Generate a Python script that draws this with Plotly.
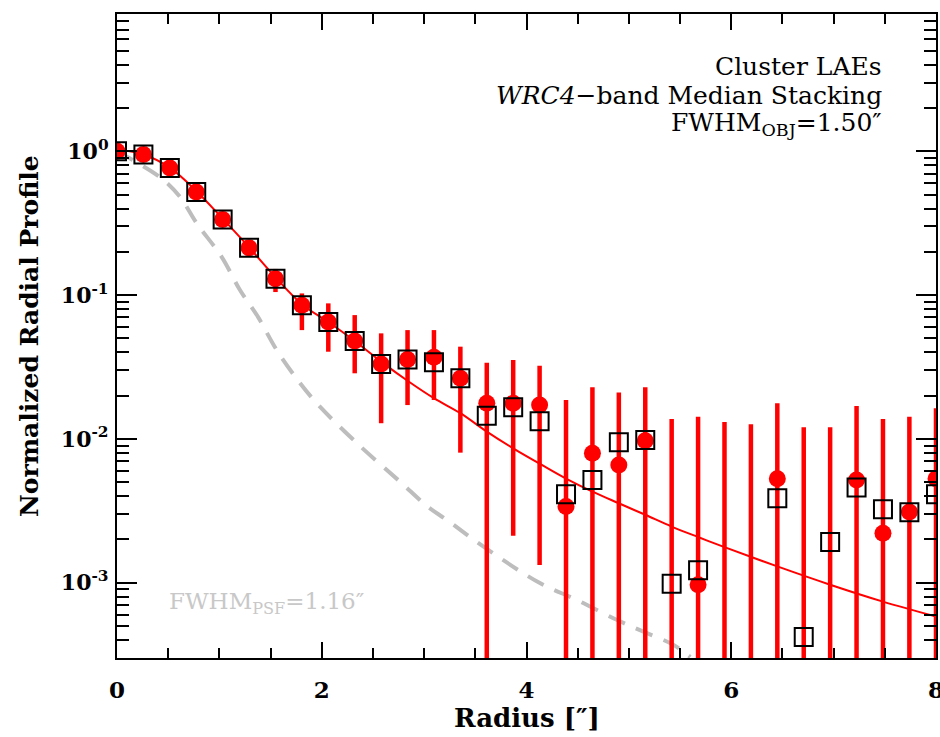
import plotly.graph_objects as go

# Radial bins (arcsec)
radius = [0.0, 0.258, 0.516, 0.774, 1.032, 1.29, 1.548, 1.806, 2.064, 2.322,
          2.58, 2.838, 3.096, 3.354, 3.612, 3.87, 4.128, 4.386, 4.644, 4.902,
          5.16, 5.418, 5.676, 5.934, 6.192, 6.45, 6.708, 6.966, 7.224, 7.482,
          7.74, 8.0]

# Median-stacked profile (filled circles) with its error range
median_prof = [1.0, 0.95, 0.766, 0.52, 0.336, 0.213, 0.13, 0.085, 0.065, 0.048,
               0.0332, 0.0357, 0.037, 0.0264, 0.0177, 0.0177, 0.0172, 0.00339, 0.00796, 0.0066,
               0.0097, 0.0002, 0.00097, 0.0002, 0.0002, 0.00528, 0.0002, 0.0002, 0.00519, 0.00221,
               0.0031, 0.00528]
prof_upper = [1.03, 0.98, 0.79, 0.54, 0.35, 0.224, 0.152, 0.1027, 0.0876, 0.0726,
              0.0542, 0.0571, 0.0571, 0.0438, 0.0339, 0.0354, 0.0323, 0.01866, 0.02286, 0.0210,
              0.02286, 0.01377, 0.01428, 0.01313, 0.01265, 0.0177, 0.01206, 0.01206, 0.01695, 0.01377,
              0.01428, 0.01634]
prof_lower = [0.97, 0.92, 0.74, 0.50, 0.32, 0.202, 0.105, 0.0571, 0.0404, 0.0286,
              0.01286, 0.0172, 0.01866, 0.00803, -0.01, 0.00212, 0.00133, -0.012, -0.007, -0.009,
              -0.004, -0.013, -0.012, -0.013, -0.012, -0.007, -0.012, -0.012, -0.007, -0.009,
              -0.008, -0.006]

# Second stacking estimate (open squares)
square_prof = [1.0, 0.95, 0.766, 0.52, 0.336, 0.213, 0.13, 0.085, 0.065, 0.048,
               0.0332, 0.0357, 0.0341, 0.0264, 0.0145, 0.0166, 0.0133, 0.00413, 0.00519, 0.00948,
               0.00985, 0.000985, 0.00122, 0.0002, 0.0002, 0.00387, 0.00042, 0.00192, 0.00459, 0.00325,
               0.00309, 0.00413]

# Best-fit profile model
fit_r = [0.0, 0.258, 0.516, 0.774, 1.032, 1.29, 1.548, 1.806, 2.064, 2.322,
         2.58, 2.838, 3.096, 3.354, 3.612, 3.87, 4.128, 4.386, 4.644, 4.902,
         5.16, 5.418, 5.676, 5.934, 6.45, 6.966, 7.482, 8.0]
fit_val = [1.03, 0.95, 0.77, 0.53, 0.34, 0.215, 0.133, 0.0865, 0.065, 0.048,
           0.0345, 0.0254, 0.0192, 0.0151, 0.01124, 0.0086, 0.00673, 0.0053, 0.0043, 0.00357,
           0.00297, 0.00246, 0.00208, 0.00177, 0.0013, 0.00097, 0.00074, 0.000583]

# PSF profile
psf_r = [0.0, 0.437, 0.615, 0.778, 1.022, 1.201, 1.377, 1.56, 1.787, 1.982,
         2.373, 2.764, 3.033, 3.22, 3.577, 4.131, 4.489, 4.88, 5.173, 5.433, 5.6]
psf_val = [1.0, 0.646, 0.482, 0.316, 0.1845, 0.1084, 0.0706, 0.0415, 0.0245, 0.01676,
           0.00894, 0.00505, 0.00339, 0.00274, 0.00179, 0.000995, 0.000762, 0.000553, 0.000448,
           0.000371, 0.000305]

x_ticks = [0, 2, 4, 6, 8]
y_ticks = [1, 0.1, 0.01, 0.001]
y_tick_text = ["10<sup>0</sup>", "10<sup>-1</sup>", "10<sup>-2</sup>", "10<sup>-3</sup>"]
y_minor = [m * 10.0 ** e for e in (-4, -3, -2, -1, 0) for m in range(2, 10)]

RED = "#ff0000"
FONT = "DejaVu Serif"

err_plus = [u - v for u, v in zip(prof_upper, median_prof)]
err_minus = [v - l for l, v in zip(prof_lower, median_prof)]

fig = go.Figure()

fig.add_trace(go.Scatter(
    x=psf_r, y=psf_val, mode="lines", line=dict(color="#bdbdbd", width=4, dash="18px,12px"),
    line_shape="spline", hoverinfo="skip", showlegend=False))

fig.add_trace(go.Scatter(
    x=fit_r, y=fit_val, mode="lines", line=dict(color=RED, width=2),
    line_shape="spline", showlegend=False))

fig.add_trace(go.Scatter(
    x=radius, y=median_prof, mode="markers",
    marker=dict(symbol="circle", size=17, color=RED, line=dict(width=0)),
    error_y=dict(type="data", symmetric=False, array=err_plus, arrayminus=err_minus,
                 color=RED, thickness=4.5, width=0),
    showlegend=False))

fig.add_trace(go.Scatter(
    x=radius, y=square_prof, mode="markers",
    marker=dict(symbol="square-open", size=18, color="black", line=dict(width=2, color="black")),
    showlegend=False))

axis_common = dict(showline=True, linecolor="black", linewidth=2, mirror="ticks",
                   ticks="inside", tickcolor="black", tickwidth=2, showgrid=False,
                   zeroline=False, ticklabeloverflow="allow", automargin=False)

fig.update_xaxes(
    range=[0, 8], tickmode="array", tickvals=x_ticks, ticklen=16,
    minor=dict(dtick=0.5, tick0=0, ticks="inside", ticklen=10, tickwidth=2, tickcolor="black",
               showgrid=False),
    tickfont=dict(family=FONT, size=23, color="black", weight="bold"),
    ticklabelstandoff=10,
    **axis_common)

fig.update_yaxes(
    type="log", range=[-3.5229, 0.9542], tickmode="array", tickvals=y_ticks,
    ticktext=y_tick_text, ticklen=20,
    minor=dict(tickmode="array", tickvals=y_minor, ticks="inside", ticklen=12, tickwidth=2,
               tickcolor="black", showgrid=False),
    tickfont=dict(family=FONT, size=22, color="black", weight="bold"),
    ticklabelstandoff=2,
    **axis_common)

# Axis titles
fig.add_annotation(x=0.5, y=-0.093, xref="paper", yref="paper", xanchor="center",
                   yanchor="middle", text="Radius [″]", showarrow=False,
                   font=dict(family=FONT, size=26, color="black", weight="bold"))
fig.add_annotation(x=-0.1074, y=0.5, xref="paper", yref="paper", xanchor="center",
                   yanchor="middle", text="Normalized Radial Profile", showarrow=False,
                   textangle=-90, font=dict(family=FONT, size=25, color="black", weight="bold"))

# Labels in the panel
label_font = dict(family=FONT, size=25, color="black")
fig.add_annotation(x=0.9365, y=0.919, xref="paper", yref="paper", xanchor="right",
                   yanchor="middle", text="Cluster LAEs", showarrow=False, font=label_font)
fig.add_annotation(x=0.9365, y=0.874, xref="paper", yref="paper", xanchor="right",
                   yanchor="middle", text="<i>WRC4</i>−band Median Stacking", showarrow=False,
                   font=label_font)
fig.add_annotation(x=0.9365, y=0.829, xref="paper", yref="paper", xanchor="right",
                   yanchor="middle", text="FWHM<sub>OBJ</sub>=1.50″", showarrow=False,
                   font=label_font)
fig.add_annotation(x=0.061, y=0.0854, xref="paper", yref="paper", xanchor="left",
                   yanchor="middle", text="FWHM<sub>PSF</sub>=1.16″", showarrow=False,
                   font=dict(family=FONT, size=23, color="#c8c8c8"))

fig.update_layout(
    width=940, height=737,
    margin=dict(l=117, r=4, t=14, b=79, autoexpand=False),
    plot_bgcolor="white", paper_bgcolor="white",
    showlegend=False,
)

fig.write_html("out.html")
